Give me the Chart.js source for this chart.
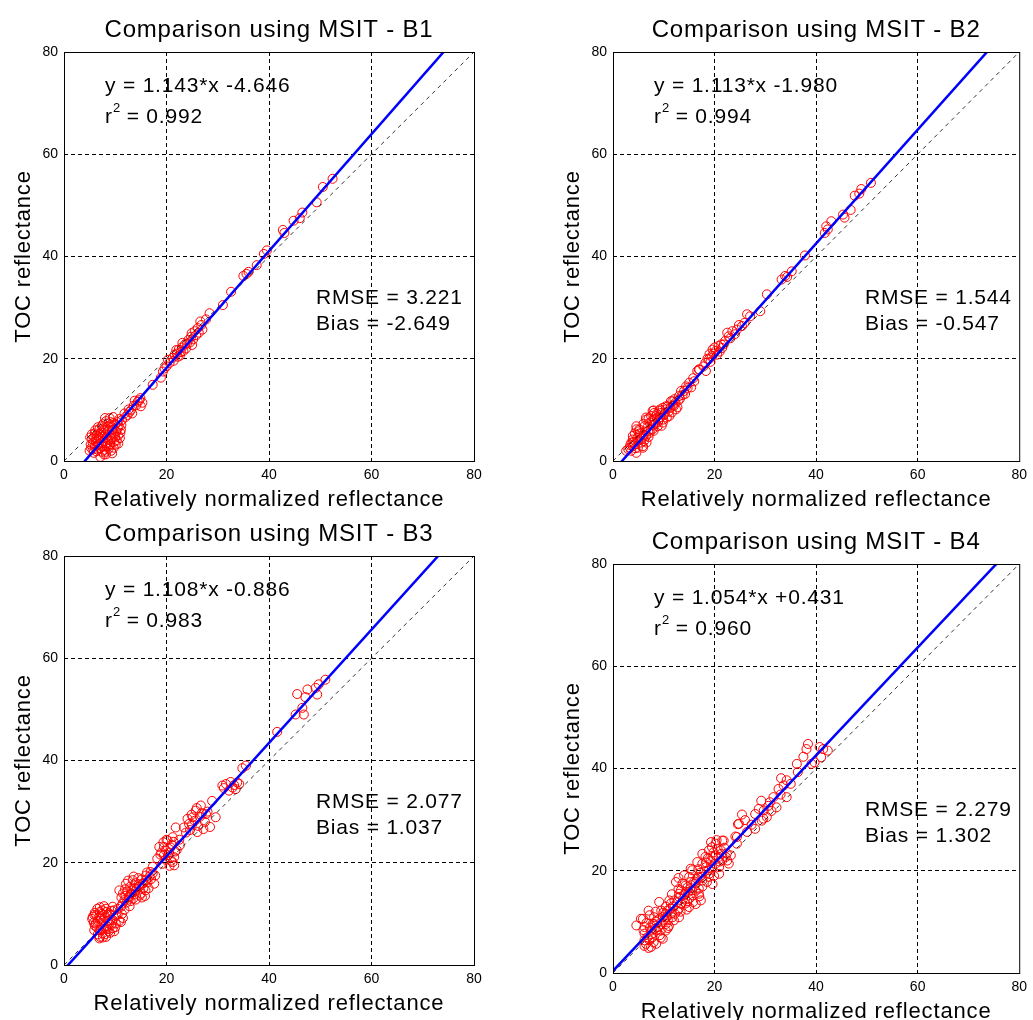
<!DOCTYPE html>
<html>
<head>
<meta charset="utf-8">
<script src="https://cdn.jsdelivr.net/npm/chart.js@4.4.1/dist/chart.umd.min.js"></script>
<style>
  body { margin: 0; background: #fff; }
  #wrap { position: relative; width: 1033px; height: 1020px; overflow: hidden; background: #fff; }
  #wrap canvas { position: absolute; }
</style>
</head>
<body>
<div id="wrap">
  <canvas id="b1"></canvas>
  <canvas id="b2"></canvas>
  <canvas id="b3"></canvas>
  <canvas id="b4"></canvas>
</div>
<script>
const tickVals = [0, 20, 40, 60, 80];
const bandNames = ['B1', 'B2', 'B3', 'B4'];
const slopes = [1.143, 1.113, 1.108, 1.054];
const intercepts = [-4.646, -1.980, -0.886, 0.431];
const r2Vals = [0.992, 0.994, 0.983, 0.960];
const rmseVals = [3.221, 1.544, 2.077, 2.279];
const biasVals = [-2.649, -0.547, 1.037, 1.302];

// [relatively normalized, TOC]
const b1Pts = [
  [52.4,55.2],[50.5,53.6],[49.3,50.6],[46.5,48.6],[46.0,47.5],[44.8,47.0],[42.7,45.2],[43.0,44.6],
  [39.6,41.2],[39.0,40.5],[37.6,38.3],[36.0,37.0],[35.0,36.2],[35.6,36.6],[32.6,33.1],[31.0,30.5],
  [28.4,28.9],[27.7,27.7],[26.8,26.6],[26.3,25.1],[25.5,25.4],[24.8,24.3],[24.3,23.7],[23.6,22.8],
  [23.0,22.2],[22.4,21.8],[22.0,21.0],[21.2,20.2],[20.6,19.2],[20.0,18.5],[19.3,17.5],[18.9,16.3],
  [17.3,14.9],[22.8,21.3],[23.8,22.0],[24.6,23.2],[21.6,20.8],[25.8,24.6],[26.1,26.0],[22.6,20.6],
  [21.9,21.7],[23.3,21.5],[24.0,23.0],[25.2,23.8],[20.3,19.8],[21.4,19.6],[23.1,23.1],[24.9,25.0],
  [22.2,20.4],[25.0,22.7],[27.0,25.7],[26.6,27.3],[19.6,18.1],
  [15.3,11.4],[14.7,11.9],[14.1,10.9],[13.6,10.8],[13.1,10.0],[12.8,9.6],[12.4,9.0],[11.8,9.3],[14.4,11.6],[12.0,8.6],
  [13.8,11.8],[13.3,9.3],[14.9,12.3],[12.6,10.1],[15.0,10.7],
  [5.0,2.0],[5.2,3.2],[5.5,4.3],[5.8,1.6],[6.0,2.8],[6.2,3.8],[6.4,5.0],[6.6,2.2],[6.8,3.3],[7.0,4.4],
  [7.2,5.6],[7.4,1.8],[7.5,2.8],[7.7,3.9],[7.9,6.4],[8.0,5.0],[8.1,1.8],[8.3,2.9],[8.5,4.2],[8.6,6.8],
  [8.8,5.4],[9.0,3.3],[9.1,7.6],[9.3,4.4],[9.5,6.1],[9.7,2.6],[9.9,5.2],[10.0,7.2],[10.3,4.0],[10.5,6.4],
  [10.8,8.2],[11.0,5.5],[11.2,7.0],[8.9,8.4],[6.9,6.3],[7.6,7.2],[9.4,1.5],[5.4,5.2],[6.1,6.0],[10.1,3.2],
  [8.2,1.3],[7.1,0.8],[9.6,8.6],[10.6,5.0],[6.7,4.8],[8.7,2.4],
  [5.3,2.5],[5.6,3.5],[5.9,4.6],[6.3,1.9],[6.5,3.0],[6.7,4.1],[6.9,5.3],[7.1,2.5],[7.3,3.6],[7.5,4.8],
  [7.7,6.0],[7.9,2.2],[8.1,3.4],[8.3,4.6],[8.5,5.8],[8.7,7.3],[8.9,3.0],[9.1,4.0],[9.2,5.0],[9.4,6.6],
  [9.6,7.4],[9.8,3.8],[10.0,4.6],[10.2,5.8],[10.4,7.6],[10.7,6.9],[10.9,4.5],[11.1,6.1],[6.0,5.4],[6.6,6.6],
  [7.4,6.8],[8.2,7.8],[5.1,4.6],[5.7,2.3],[7.8,1.3],[9.2,2.0],[10.6,3.4],[11.3,8.0],[8.0,8.4],[6.3,4.4]
];
const b2Pts = [
  [50.8,54.4],[48.9,53.2],[47.6,51.9],[48.5,52.3],[46.8,49.1],[45.3,48.2],[45.6,47.6],[43.0,46.9],[42.0,45.9],[41.7,44.6],[42.3,45.3],
  [37.8,40.2],[35.2,37.1],[33.9,36.2],[33.2,35.5],[34.3,36.0],[30.3,32.6],[29.0,29.3],[26.4,28.7],[27.0,28.3],[25.4,26.4],
  [24.4,25.7],[23.5,25.4],[24.8,26.6],[22.8,24.4],[22.1,23.5],[20.8,22.5],[20.2,21.5],[21.0,21.4],[19.5,20.5],[18.9,19.9],
  [18.2,19.2],[16.9,17.9],[16.6,17.6],[17.8,18.5],[19.8,21.0],[22.5,25.1],[21.5,22.1],[19.6,21.8],[17.0,17.9],[18.3,17.6],
  [19.0,20.9],[20.5,20.8],[21.3,22.8],[20.0,22.2],[19.2,19.4],[18.6,20.0],[21.8,22.8],[23.1,24.0],[24.0,24.8],[25.9,27.0],
  [15.0,15.3],[14.0,13.7],[13.0,12.7],[11.7,11.7],[10.8,10.7],[7.8,9.8],[8.5,8.8],[6.5,8.5],[9.5,9.4],[7.2,7.5],
  [4.6,6.2],[5.2,4.9],[3.9,4.2],[3.3,2.6],[2.6,2.0],[4.6,1.6],[5.9,2.9],[6.5,4.9],[7.8,6.2],[9.8,7.5],
  [11.1,8.8],[12.4,10.1],[5.5,3.6],[8.8,6.8],[7.2,5.5],[10.4,10.1],[6.2,6.8],[8.1,8.1],[3.9,2.9],[4.9,2.6],
  [13.4,13.7],[14.7,14.3],[16.0,15.6],[12.1,12.1],[11.4,11.7],[10.4,10.7],[9.8,10.4],[9.1,9.8],[8.1,9.4],[7.5,8.8],
  [6.5,8.1],[5.2,6.2],[4.6,6.8],[3.9,4.9],[3.6,3.6],[5.9,2.6],[6.9,5.8],[7.9,7.0],[9.0,8.0],[10.0,9.0],
  [5.0,4.0],[6.0,5.0],[8.4,7.4],[11.8,10.9],[12.9,11.8],[4.2,3.3],
  [3.0,2.3],[3.4,3.1],[4.0,3.7],[4.4,2.5],[4.8,4.5],[5.3,5.4],[5.7,4.4],[6.1,3.9],[6.4,5.8],[6.8,6.6],
  [7.0,4.7],[7.4,6.1],[7.7,7.9],[8.0,5.9],[8.3,7.2],[8.6,9.2],[8.9,7.7],[9.3,8.5],[9.6,6.9],[9.9,8.1],
  [10.2,9.4],[10.6,8.5],[11.0,9.7],[11.3,10.4],[11.6,9.5],[12.0,10.8],[12.3,11.4],[12.7,10.5],[13.2,12.2],[13.7,12.9],
  [14.2,13.1],[14.4,14.6],[15.4,14.4],[15.8,16.2],[5.0,5.8],[6.0,7.3],[7.0,8.3],[4.3,5.4],[3.6,2.0],[6.6,3.6],
  [8.0,9.9],[9.3,10.1]
];
const b3Pts = [
  [51.0,55.8],[49.7,54.9],[49.1,54.2],[47.5,53.9],[45.5,53.0],[49.4,52.9],[47.1,52.4],[46.5,50.3],[46.8,49.0],[45.2,49.0],
  [41.6,45.6],[35.5,39.0],[34.8,38.5],[33.8,35.7],[32.9,34.7],[31.6,35.4],[30.9,35.1],[32.2,34.1],[33.2,35.2],[29.6,28.9],
  [32.5,35.8],[33.5,34.4],[31.2,34.6],[34.2,35.4],
  [28.9,32.1],[27.7,29.5],[26.7,31.2],[25.7,30.2],[25.1,28.9],[24.4,27.6],[24.1,28.6],[23.4,26.9],[21.8,26.9],[21.2,25.0],
  [24.6,26.4],[25.5,28.2],[26.2,27.2],[24.9,29.4],[26.9,29.7],[27.2,26.6],[23.8,25.9],[25.9,30.7],[28.0,30.0],
  [28.5,27.0],[26.0,26.0],[27.5,28.0],[25.0,27.5],[26.5,29.0],
  [20.2,24.4],[19.5,23.1],[18.6,23.1],[21.5,21.1],[21.2,20.1],[19.9,22.4],[19.2,19.8],[18.2,20.8],[17.3,19.2],[16.9,18.2],
  [19.5,21.5],[20.5,22.0],[21.0,23.5],[20.0,24.5],[22.0,22.5],[22.5,24.5],[21.5,19.5],[19.0,22.0],
  [19.8,20.6],[20.3,21.5],[20.8,23.0],[21.7,22.2],[20.6,19.4],[19.4,24.0],[21.4,24.1],[22.6,23.4],[18.8,21.6],[20.9,20.4],
  [17.6,15.9],[16.0,16.6],[15.3,15.9],[14.7,15.3],[14.0,14.6],[13.4,16.6],[13.1,14.0],[12.7,13.3],[12.1,15.9],[11.8,12.7],
  [11.4,12.0],[11.1,11.4],[10.8,14.6],[10.5,11.0],[9.8,10.7],[9.5,11.4],[8.8,10.1],[7.5,10.7],[6.9,9.4],[5.6,9.4],
  [12.0,13.5],[12.5,16.5],[13.0,12.5],[13.8,15.0],[14.5,17.0],[15.0,14.0],[15.5,16.0],[16.0,17.5],[16.5,15.0],[17.0,16.8],
  [17.8,17.5],[11.5,14.0],[13.5,13.0],[14.0,16.0],[15.8,13.5],[12.8,11.5],
  [12.3,14.4],[12.9,15.3],[13.3,14.6],[13.8,13.8],[14.2,14.9],[14.6,15.8],[14.8,13.6],[15.1,16.7],[15.5,15.0],[15.9,14.6],
  [16.3,16.2],[16.7,17.3],[13.0,13.8],[12.2,12.2],[14.0,12.8],[15.2,13.2],[11.9,14.8],[13.6,17.3],[16.2,18.1],[17.3,17.9],
  [11.2,13.2],[12.6,12.8],
  [6.2,8.1],[6.9,6.8],[7.5,6.2],[8.5,7.5],[8.8,8.1],[9.5,8.8],[10.1,8.1],[11.1,8.4],[8.2,5.5],[6.9,5.2],
  [5.9,6.8],[5.5,9.0],[6.0,10.2],[6.5,11.0],[7.0,10.4],[7.8,11.5],[8.5,9.8],[9.0,8.8],[9.5,7.2],[10.2,9.6],
  [10.8,8.6],[11.5,9.2],[7.3,8.0],[8.0,6.0],[6.4,7.4],[9.8,6.6],[8.4,7.0],[7.0,5.5],[11.8,10.8],
  [5.8,8.3],[6.3,9.7],[6.6,8.6],[7.1,9.1],[7.4,10.0],[7.7,8.7],[8.0,9.3],[8.3,10.4],[8.6,8.6],[9.0,9.8],
  [9.3,10.6],[9.2,7.8],[8.7,6.6],[7.9,7.4],[7.2,7.0],[6.6,6.0],[7.6,5.4],[10.5,9.9],[10.0,7.4],[9.0,6.3],
  [11.3,10.0],[6.0,7.7],[5.9,9.8],[7.0,11.3],[8.2,11.0]
];
const b4Pts = [
  [38.4,44.8],[38.1,43.8],[37.5,42.3],[36.2,40.9],[40.7,44.2],[42.3,43.5],[41.0,42.2],[39.7,41.2],[39.1,40.9],[41.4,43.8],
  [34.2,37.7],[33.6,36.7],[32.6,36.0],[34.2,34.4],[31.6,34.4],[30.9,33.4],[32.2,32.4],[29.2,33.7],[28.7,32.1],[28.0,31.1],
  [33.0,34.9],[35.0,37.0],[36.4,39.3],[33.1,38.1],[27.3,29.0],[26.0,29.9],[31.2,31.7],
  [29.6,30.2],[29.3,29.8],[25.4,31.0],[24.6,29.1],[28.0,28.2],[26.4,27.6],[24.4,25.3],[24.1,26.7],[22.5,22.0],[21.8,25.9],
  [21.2,24.0],[20.2,25.3],[19.5,24.6],[18.9,24.0],[20.8,22.7],[20.2,21.4],[19.5,20.7],[18.9,20.1],[18.2,22.7],[17.6,21.4],
  [16.6,21.7],[16.9,18.8],[16.3,17.5],[15.3,20.4],[15.0,18.8],[14.3,17.1],[13.7,17.5],[13.4,16.2],[12.4,17.8],[13.0,14.9],
  [12.1,14.2],[11.4,13.6],[10.7,12.2],[10.4,11.6],[9.1,13.9],[9.8,10.9],[8.8,10.3],[8.1,9.6],[7.5,8.3],[6.8,7.0],
  [6.5,5.7],[7.0,12.2],[7.2,11.3],[5.5,10.6],[4.6,9.3],[6.2,7.7],[7.2,6.4],[7.8,7.0],[9.4,8.3],[10.4,9.6],
  [11.7,10.9],[12.7,12.2],[14.3,13.6],[15.6,16.2],[16.9,16.5],[17.6,18.1],[18.9,18.8],[29.7,31.8],[30.6,32.7],[30.3,30.5],
  [24.8,29.2],[24.4,26.6],[21.5,25.9],[17.6,23.3],[19.6,22.7],[21.5,22.0],[22.2,22.7],[20.9,19.4],[18.9,19.4],[17.6,18.8],
  [15.6,20.1],[14.0,19.1],[15.3,17.8],[16.3,16.1],[14.3,15.8],[13.0,15.5],[16.9,15.5],[15.0,14.5],[13.4,13.5],[11.1,14.2],
  [9.5,12.2],[11.4,11.6],[13.0,10.9],[5.9,10.6],[6.2,9.0],[7.8,9.6],[8.5,8.3],[8.5,5.7],[9.8,6.7],[10.4,8.3],
  [10.8,10.3],[8.1,10.9],[6.2,6.4],[7.5,5.1],[13.0,12.6],[15.0,12.9],[16.3,13.5],[17.3,14.2],[19.6,17.4],[20.9,20.7],
  [22.8,21.4],[18.3,20.7],[14.7,16.8],
  [6.0,8.4],[6.6,9.8],[7.3,8.9],[7.6,7.6],[8.2,8.6],[8.6,10.0],[8.9,9.0],[9.2,7.4],[9.6,9.6],[9.9,11.8],
  [10.1,10.4],[10.6,11.0],[11.0,9.2],[11.3,12.6],[11.8,13.0],[12.2,11.6],[12.6,13.8],[12.9,16.4],[13.3,12.0],[13.8,14.5],
  [14.1,15.4],[14.6,14.0],[14.9,15.9],[15.3,16.6],[15.7,15.2],[16.0,17.9],[16.5,18.4],[16.8,20.3],[17.2,19.6],[17.6,16.9],
  [18.0,19.9],[18.4,21.6],[18.7,22.5],[19.2,21.9],[19.8,23.6],[20.2,23.0],[20.6,24.2],[21.0,21.8],[21.3,23.3],[19.9,19.0],
  [18.5,17.8],[17.0,15.0],[15.8,13.9],[14.5,12.4],[12.0,10.3],[10.8,8.8],[9.4,6.9],[8.0,6.0],[7.0,4.9],[6.2,5.3],
  [11.6,15.4],[12.9,18.6],[10.4,13.0],[8.4,12.0],[19.3,25.6],[21.9,24.5],[22.4,23.4],[23.2,23.0],[20.4,26.0]
];
const allPts = [b1Pts, b2Pts, b3Pts, b4Pts];

// canvas placement and plot box inside each canvas
const panels = [
  { id: 'b1', x: 0,   y: 0,   w: 516, h: 515, l: 64, t: 52, r: 474, b: 461 },
  { id: 'b2', x: 516, y: 0,   w: 517, h: 515, l: 97, t: 52, r: 506, b: 461 },
  { id: 'b3', x: 0,   y: 505, w: 516, h: 515, l: 64, t: 51, r: 474, b: 460 },
  { id: 'b4', x: 516, y: 510, w: 517, h: 510, l: 97, t: 54, r: 506, b: 463 }
];

Chart.defaults.font.family = '"Liberation Sans", Arial, sans-serif';
Chart.defaults.color = '#000';

function fmt(v) { return v.toFixed(3); }

function spaced(ctx, txt, x, y, size, spacing, align) {
  ctx.font = size + 'px "Liberation Sans", Arial, sans-serif';
  ctx.letterSpacing = spacing + 'px';
  ctx.textAlign = align || 'left';
  ctx.fillText(txt, x, y);
}

const panelText = {
  id: 'panelText',
  afterDraw(chart, args, opts) {
    const ctx = chart.ctx, a = chart.chartArea, i = opts.idx;
    ctx.save();
    ctx.setLineDash([]);
    ctx.strokeStyle = '#000';
    ctx.lineWidth = 1;
    ctx.strokeRect(a.left + 0.5, a.top + 0.5, a.right - a.left, a.bottom - a.top);
    ctx.fillStyle = '#000';
    ctx.textBaseline = 'alphabetic';
    const cx = (a.left + a.right) / 2;
    spaced(ctx, 'Comparison using MSIT - ' + bandNames[i], cx, a.top - 15, 24, 0.8, 'center');
    spaced(ctx, 'Relatively normalized reflectance', cx, a.bottom + 45, 22, 0.85, 'center');
    const b = intercepts[i];
    spaced(ctx, 'y = ' + fmt(slopes[i]) + '*x ' + (b < 0 ? '-' : '+') + fmt(Math.abs(b)), a.left + 41, a.top + 40, 21, 0.8);
    spaced(ctx, 'r', a.left + 41, a.top + 71, 21, 0.8);
    spaced(ctx, '2', a.left + 49, a.top + 60, 13, 0);
    spaced(ctx, ' = ' + fmt(r2Vals[i]), a.left + 56, a.top + 71, 21, 0.8);
    spaced(ctx, 'RMSE = ' + fmt(rmseVals[i]), a.left + 252, a.bottom - 157, 21, 0.8);
    spaced(ctx, 'Bias = ' + fmt(biasVals[i]), a.left + 252, a.bottom - 131, 21, 0.8);
    ctx.translate(a.left - 34, (a.top + a.bottom) / 2);
    ctx.rotate(-Math.PI / 2);
    spaced(ctx, 'TOC reflectance', 0, 0, 22, 0.85, 'center');
    ctx.restore();
  }
};

function gridColor(c) {
  const v = c.tick ? c.tick.value : null;
  return (v === tickVals[0] || v === tickVals[tickVals.length - 1]) ? 'rgba(0,0,0,0)' : '#000';
}

panels.forEach((p, i) => {
  const cv = document.getElementById(p.id);
  cv.width = p.w;
  cv.height = p.h;
  cv.style.left = p.x + 'px';
  cv.style.top = p.y + 'px';
  cv.style.width = p.w + 'px';
  cv.style.height = p.h + 'px';

  const lo = tickVals[0], hi = tickVals[tickVals.length - 1];
  const axis = (fit) => ({
    type: 'linear',
    min: lo,
    max: hi,
    afterBuildTicks: s => { s.ticks = tickVals.map(v => ({ value: v })); },
    ticks: { color: '#000', font: { size: 14 }, padding: 6, maxRotation: 0 },
    grid: { drawTicks: false, color: gridColor, lineWidth: 1 },
    border: { display: false, dash: [4, 3] },
    afterFit: fit
  });

  new Chart(cv, {
    type: 'scatter',
    data: {
      datasets: [
        {
          data: [{ x: lo, y: slopes[i] * lo + intercepts[i] }, { x: hi, y: slopes[i] * hi + intercepts[i] }],
          showLine: true, borderColor: '#0000ff', borderWidth: 2.5, pointRadius: 0, clip: 0, order: 0
        },
        {
          data: [{ x: lo, y: lo }, { x: hi, y: hi }],
          showLine: true, borderColor: '#000', borderWidth: 0.8, borderDash: [4, 4], pointRadius: 0, clip: 0, order: 1
        },
        {
          data: allPts[i].map(d => ({ x: d[0], y: d[1] })),
          showLine: false, pointStyle: 'circle', pointRadius: 4.5, pointBorderWidth: 1,
          borderColor: '#ff0000', backgroundColor: 'rgba(0,0,0,0)', order: 2
        }
      ]
    },
    options: {
      responsive: false,
      animation: false,
      events: [],
      layout: { padding: { left: 0, top: p.t, right: p.w - p.r, bottom: 0 } },
      plugins: {
        legend: { display: false },
        tooltip: { enabled: false },
        panelText: { idx: i }
      },
      scales: {
        x: axis(s => { s.height = p.h - p.b; }),
        y: axis(s => { s.width = p.l; })
      }
    },
    plugins: [panelText]
  });
});
</script>
</body>
</html>
